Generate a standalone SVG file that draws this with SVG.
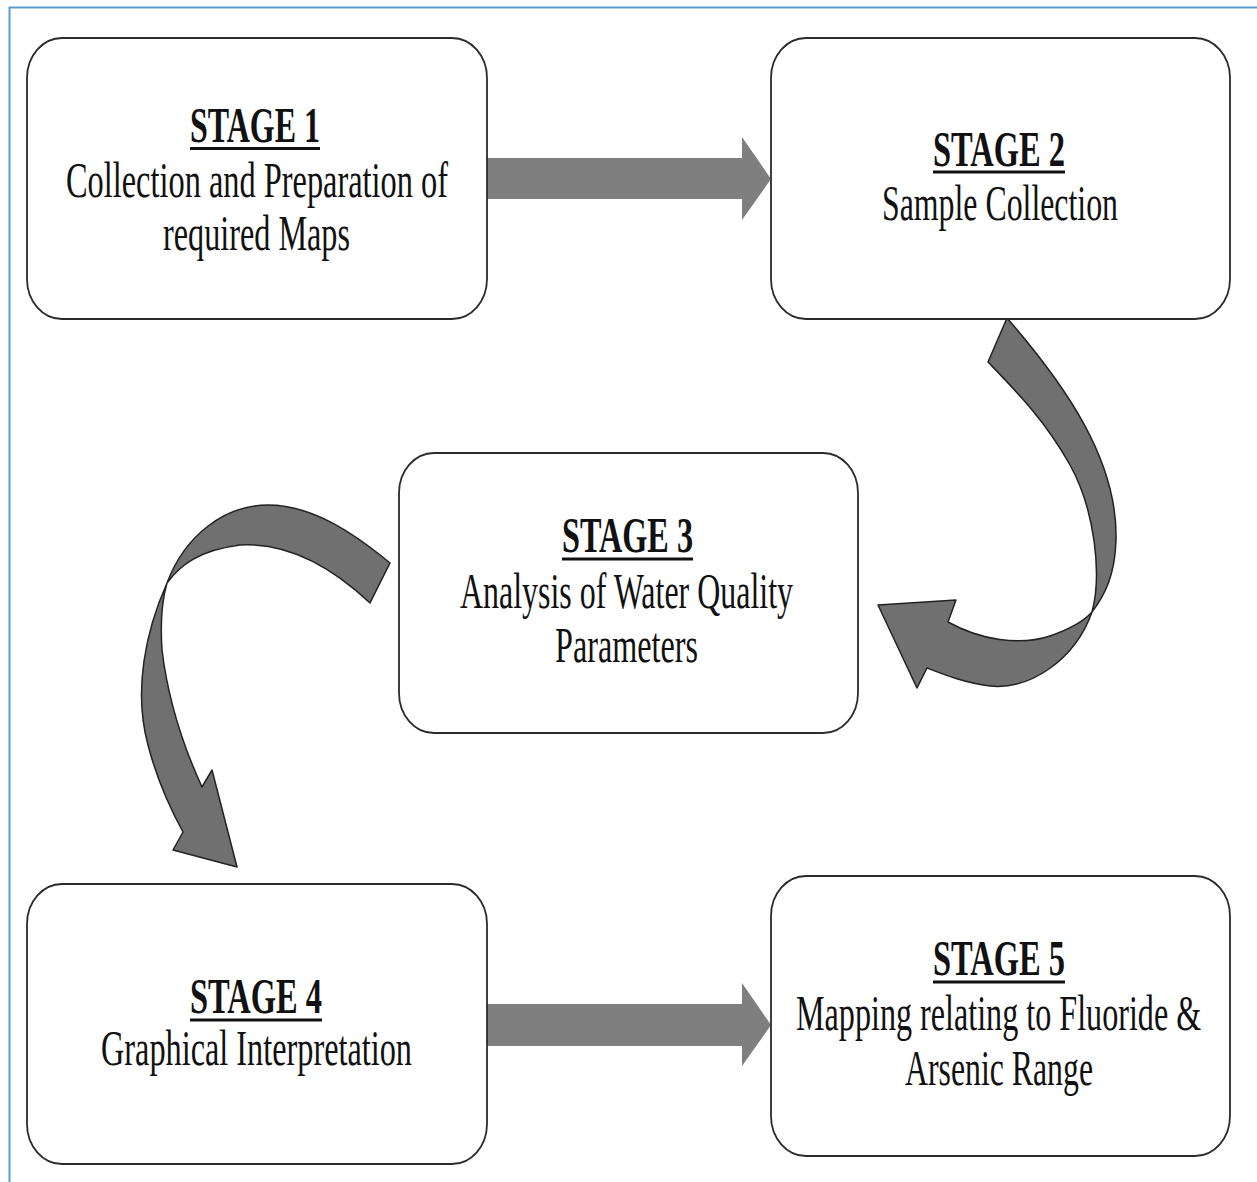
<svg xmlns="http://www.w3.org/2000/svg" width="1257" height="1182" viewBox="0 0 1257 1182">
<style>
.box{fill:#fff;stroke:#2b2b2b;stroke-width:1.8}
.h{font-family:"Liberation Serif","Times New Roman",serif;font-weight:bold;font-size:50px;fill:#111}
.t{font-family:"Liberation Serif","Times New Roman",serif;font-size:50px;fill:#111}
.ul{stroke:#111;stroke-width:3}
.sa{fill:#7f7f7f}
.ca{fill:#707070;stroke:#222;stroke-width:1.5;stroke-linejoin:round}
</style>
<rect width="1257" height="1182" fill="#fff"/>
<rect x="9.5" y="7.5" width="1260" height="1200" fill="none" stroke="#5b9bd5" stroke-width="2"/>
<g id="connectors">
<polygon class="sa" points="487,158 742,158 742,137 771,179 742,220 742,199 487,199"/>
<polygon class="sa" points="487,1004 742,1004 742,983 771,1025 742,1066 742,1046 487,1046"/>
<path class="ca" d="M1007,318 C1065,385 1118,460 1116,540 C1115,575 1105,595 1092,612 C1075,660 1030,690 990,686 C965,683 945,675 927,668 L917,688 L878,605 L956,600 L948,622 C980,640 1020,646 1050,636 C1070,629 1085,620 1092,612 C1102,575 1095,510 1070,465 C1045,420 1015,390 988,362 Z"/>
<path class="ca" d="M390,563 C350,530 310,505 268,505 C225,505 185,535 167,583 C146,630 133,690 148,745 C157,780 171,810 183,832 L173,850 L237,867 L212,770 L202,787 C185,750 168,700 162,650 C160,620 162,600 167,583 C180,565 200,550 240,545 C290,542 335,570 370,603 Z"/>
</g>
<g id="stage1">
<rect class="box" x="27" y="38" width="460" height="281" rx="35" ry="40"/>
<text class="h" x="190" y="142" textLength="130" lengthAdjust="spacingAndGlyphs">STAGE 1</text>
<line class="ul" x1="190" y1="148.5" x2="320" y2="148.5"/>
<text class="t" x="66" y="197" textLength="382" lengthAdjust="spacingAndGlyphs">Collection and Preparation of</text>
<text class="t" x="163" y="250" textLength="187" lengthAdjust="spacingAndGlyphs">required Maps</text>
</g>
<g id="stage2">
<rect class="box" x="771" y="38" width="459" height="281" rx="35" ry="40"/>
<text class="h" x="933" y="166" textLength="132" lengthAdjust="spacingAndGlyphs">STAGE 2</text>
<line class="ul" x1="933" y1="172" x2="1065" y2="172"/>
<text class="t" x="882" y="220" textLength="236" lengthAdjust="spacingAndGlyphs">Sample Collection</text>
</g>
<g id="stage3">
<rect class="box" x="399" y="453" width="459" height="280" rx="35" ry="40"/>
<text class="h" x="562" y="552" textLength="131" lengthAdjust="spacingAndGlyphs">STAGE 3</text>
<line class="ul" x1="562" y1="559" x2="693" y2="559"/>
<text class="t" x="460" y="608" textLength="333" lengthAdjust="spacingAndGlyphs">Analysis of Water Quality</text>
<text class="t" x="555" y="662" textLength="143" lengthAdjust="spacingAndGlyphs">Parameters</text>
</g>
<g id="stage4">
<rect class="box" x="27" y="884" width="460" height="280" rx="35" ry="40"/>
<text class="h" x="190" y="1013" textLength="132" lengthAdjust="spacingAndGlyphs">STAGE 4</text>
<line class="ul" x1="190" y1="1020" x2="322" y2="1020"/>
<text class="t" x="101" y="1065" textLength="311" lengthAdjust="spacingAndGlyphs">Graphical Interpretation</text>
</g>
<g id="stage5">
<rect class="box" x="771" y="876" width="459" height="280" rx="35" ry="40"/>
<text class="h" x="933" y="975" textLength="132" lengthAdjust="spacingAndGlyphs">STAGE 5</text>
<line class="ul" x1="933" y1="982" x2="1065" y2="982"/>
<text class="t" transform="translate(796,1030) scale(0.643,1)" x="0" y="0">Mapping relating to Fluoride &amp;</text>
<text class="t" x="905" y="1085" textLength="188" lengthAdjust="spacingAndGlyphs">Arsenic Range</text>
</g>
</svg>
